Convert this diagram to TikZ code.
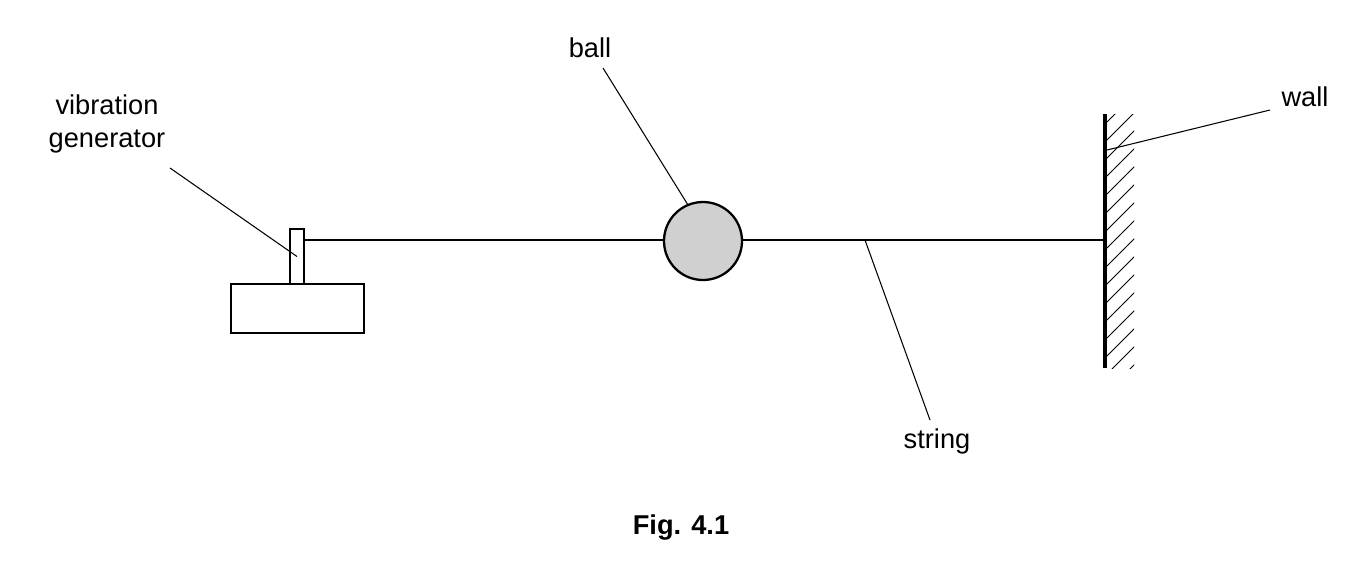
\documentclass[tikz,border=0pt]{standalone}
\usepackage{fontspec}
\setmainfont{Liberation Sans}
\begin{document}
\begin{tikzpicture}[x=0.02cm,y=-0.02cm,
  lbl/.style={font=\fontsize{15.5}{19}\selectfont, align=center, inner sep=0pt},
  lead/.style={line width=0.6pt},
  thick line/.style={line width=1.3pt}]
\useasboundingbox (0,0) rectangle (1362,579);
% base and rod
\node[draw, thick line, minimum width=133*0.02cm, minimum height=49*0.02cm, inner sep=0pt] (base) at (297.5,308.5) {};
\node[draw, thick line, minimum width=14*0.02cm, minimum height=55*0.02cm, inner sep=0pt] (rod) at (297,256.5) {};
% ball
\node[circle, draw, thick line, fill={rgb,255:red,208;green,208;blue,208}, minimum size=78*0.02cm, inner sep=0pt] (ball) at (703,241) {};
% wall
\coordinate (wtop) at (1105,114);
\coordinate (wbot) at (1105,368);
\coordinate (wmid) at (1105,240);
\begin{scope}
\clip (1106,114) rectangle (1134,368);
\foreach \y in {106,124,...,400} \draw[line width=0.5pt] (1105,\y) -- ++(30,-30);
\end{scope}
\draw[line width=1.8pt] (wtop) -- (wbot);
% string
\draw[thick line] (rod.east |- 0,240) -- (ball.west |- 0,240);
\draw[thick line] (ball.east |- 0,240) -- (wmid);
\coordinate (spt) at (865,240);
% labels
\node[lbl] (vg) at (107,124) {vibration\\generator};
\node[lbl] (bl) at (590,48) {ball};
\node[lbl] (wl) at (1305,97) {wall};
\node[lbl] (st) at (937,441) {string};
\node[lbl, font=\fontsize{15.5}{19}\selectfont\bfseries] (fig) at (681,528) {Fig. 4.1};
% leaders
\draw[lead] (170,168) -- (rod.center);
\draw[lead] (603,68) -- (688,205);
\draw[lead] (1270,110) -- (1107,150);
\draw[lead] (930,420) -- (spt);
\end{tikzpicture}
\end{document}
